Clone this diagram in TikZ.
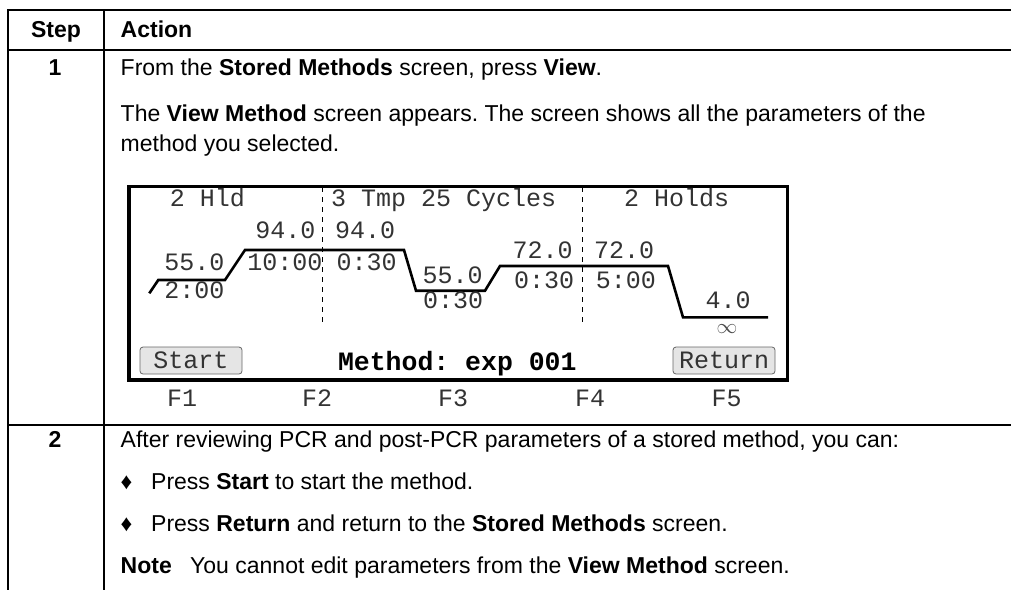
\documentclass[tikz,border=0pt]{standalone}
\usepackage{fontspec}
\setmainfont{Liberation Sans}
\newfontfamily\lcdfont{Liberation Mono}
\usetikzlibrary{positioning}
\frenchspacing

\tikzset{
  txt/.style={anchor=base west,inner sep=0pt,font=\fontsize{23}{28}\selectfont},
  num/.style={anchor=base,inner sep=0pt,font=\fontsize{23}{28}\selectfont\bfseries},
  hdr/.style={inner sep=0pt,font=\fontsize{23}{28}\selectfont\bfseries},
  lcd/.style={anchor=base,inner sep=0pt,text=black!80,font=\lcdfont\fontsize{25}{28}\selectfont},
  btn/.style={draw=black!60,fill=black!10,rounded corners=3pt,line width=0.8pt,
    minimum width=102pt,minimum height=27pt,inner sep=0pt,text=black!80,
    font=\lcdfont\fontsize{25}{28}\selectfont},
  rule/.style={line width=1.3pt},
  ramp/.style={line width=2.6pt,line join=miter},
  divider/.style={line width=1pt,dash pattern=on 5pt off 5pt}
}

\begin{document}
\begin{tikzpicture}[x=1pt,y=-1pt]
	\useasboundingbox (0,0) rectangle (1011,590);
	% table rules
	\draw[rule] (7,10) -- (1011,10);
	\draw[rule] (7,50) -- (1011,50);
	\draw[rule] (7,425) -- (1011,425);
	\draw[rule] (8,10) -- (8,590);
	\draw[rule] (104,10) -- (104,590);
	
	% header
	\node[hdr,anchor=base] (hstep) at (56,37.3) {Step};
	\node[hdr,anchor=base west] (hact) at (120.5,37.3) {Action};
	
	% step 1
	\node[num] (n1) at (55,75.7) {1};
	\node[txt] (t1a) at (120.5,75.7) {From the \textbf{Stored Methods} screen, press \textbf{View}.};
	\node[txt] (t1b) at (120.5,121.7) {The \textbf{View Method} screen appears. The screen shows all the parameters of the};
	\node[txt] (t1c) at (120.5,151.7) {method you selected.};
	
	% screen
	\draw[line width=3.5pt] (129,186.7) rectangle (787.5,380);
	\coordinate (d1t) at (322,187);
	\coordinate (d1b) at (322,323);
	\coordinate (d2t) at (582,187);
	\coordinate (d2b) at (582,323);
	\draw[divider] (d1t) -- (d1b);
	\draw[divider] (d2t) -- (d2b);
	
	\node[lcd] (g1) at (207.5,206.7) {2 Hld};
	\node[lcd,anchor=base west] (g2) at (331,206.7) {3 Tmp 25 Cycles};
	\node[lcd,anchor=base west] (g3) at (624,206.7) {2 Holds};
	
	% temperature profile
	\draw[ramp] (149.3,293.3) -- (158.3,280) -- (225,280) -- (245,250) -- (404,250)
		-- (416,290.7) -- (485,290.7) -- (500,266) -- (668,266) -- (683,317.3) -- (768,317.3);
	
	\node[lcd] (s1t) at (194.5,270) {55.0};
	\node[lcd] (s1h) at (194.5,298.3) {2:00};
	\node[lcd] (s2t) at (285.5,238.3) {94.0};
	\node[lcd] (s2h) at (285,270) {10:00};
	\node[lcd] (s3t) at (365,238.3) {94.0};
	\node[lcd] (s3h) at (366.5,270) {0:30};
	\node[lcd] (s4t) at (452.5,283.3) {55.0};
	\node[lcd] (s4h) at (453,308.3) {0:30};
	\node[lcd] (s5t) at (542.5,258.3) {72.0};
	\node[lcd] (s5h) at (544,288.3) {0:30};
	\node[lcd] (s6t) at (624,258.3) {72.0};
	\node[lcd] (s6h) at (625.8,288.3) {5:00};
	\node[lcd] (s7t) at (728,308.3) {4.0};
	\node[inner sep=0pt,text=black!70,font=\fontsize{22}{22}\selectfont] (s7h) at (727,329) {$\infty$};
	
	% soft keys
	\node[btn] (kstart) at (191,360.5) {Start};
	\node[btn] (kret) at (724,360.5) {Return};
	\node[lcd,text=black,font=\lcdfont\fontsize{26.5}{28}\selectfont\bfseries] (meth) at (457.3,370) {Method: exp 001};
	
	\node[lcd] (f1) at (182,406.7) {F1};
	\node[lcd] (f2) at (317,406.7) {F2};
	\node[lcd] (f3) at (453,406.7) {F3};
	\node[lcd] (f4) at (590,406.7) {F4};
	\node[lcd] (f5) at (726.7,406.7) {F5};
	
	% step 2
	\node[num] (n2) at (55,447) {2};
	\node[txt] (t2a) at (120.5,447) {After reviewing PCR and post-PCR parameters of a stored method, you can:};
	\node[txt] (b1) at (120.5,489) {\char"2666};
	\node[txt] (t2b) at (151,489) {Press \textbf{Start} to start the method.};
	\node[txt] (b2) at (120.5,531) {\char"2666};
	\node[txt] (t2c) at (151,531) {Press \textbf{Return} and return to the \textbf{Stored Methods} screen.};
	\node[txt] (t2d) at (120.5,573) {\textbf{Note}};
	\node[txt] (t2e) at (190,573) {You cannot edit parameters from the \textbf{View Method} screen.};
\end{tikzpicture}
\end{document}
